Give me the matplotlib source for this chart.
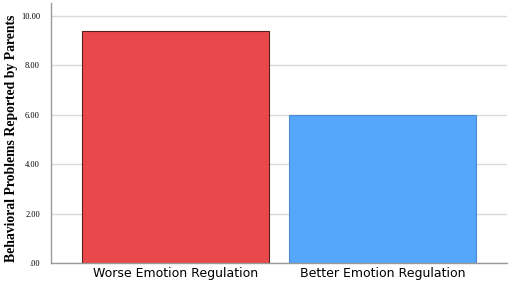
import matplotlib
matplotlib.use('Agg')
import matplotlib.pyplot as plt

categories = ['Worse Emotion Regulation', 'Better Emotion Regulation']
values = [9.38, 6.0]
yticks = [0, 2, 4, 6, 8, 10]
ytick_labels = ['.00', '2.00', '4.00', '6.00', '8.00', '10.00']

fig = plt.figure(figsize=(5.1, 2.85), dpi=100)
ax = fig.add_axes([0.1, 0.077, 0.894, 0.912])

ax.set_axisbelow(True)
ax.grid(axis='y', color='#d9d9d9', linewidth=1)
ax.bar(range(len(categories)), values, width=0.903,
       color=['#e8484a', '#55a7fb'], edgecolor=['#5a1f20', '#4a8ad0'], linewidth=0.8)

ax.set_xlim(-0.6, 1.6)
ax.set_ylim(0, 10.5)
ax.set_xticks(range(len(categories)))
ax.set_xticklabels(categories, fontsize=9, family='DejaVu Sans')
ax.set_yticks(yticks)
ax.set_yticklabels(ytick_labels, fontsize=6, family='Liberation Serif')
ax.tick_params(length=0)
ax.tick_params(axis='y', pad=8)
ax.tick_params(axis='x', pad=3)

for s in ['top', 'right']:
    ax.spines[s].set_visible(False)
for s in ['left', 'bottom']:
    ax.spines[s].set_color('#9a9a9a')
    ax.spines[s].set_linewidth(1)

ax.set_ylabel('Behavioral Problems Reported by Parents', fontsize=9.9,
              family='Liberation Serif', fontweight='bold')
ax.yaxis.set_label_coords(-0.072, 0.48)

fig.savefig('out.png', dpi=100)
